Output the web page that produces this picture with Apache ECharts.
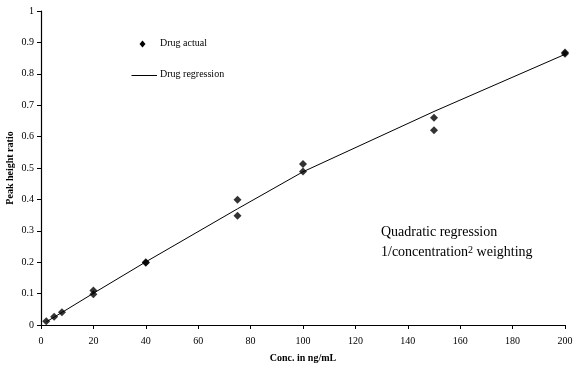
<!DOCTYPE html>
<html><head><meta charset="utf-8">
<script src="https://cdn.jsdelivr.net/npm/echarts@6/dist/echarts.min.js"></script>
<style>html,body{margin:0;padding:0;background:#fff}#c{width:580px;height:369px}</style>
</head><body><div id="c"></div>
<script>
const actualPoints = [
  [2,0.012],[5,0.026],[8,0.041],[20,0.110],[20,0.098],[40,0.200],[40,0.198],
  [75,0.399],[75,0.348],[100,0.513],[100,0.489],[150,0.660],[150,0.620],[200,0.868],[200,0.864]
];
const regressionPoints = [
  [2,0.010],[5,0.025],[8,0.040],[20,0.101],[40,0.201],[75,0.370],[100,0.488],[150,0.680],[200,0.862]
];
const xTicks = [0,20,40,60,80,100,120,140,160,180,200];
const yTicks = [0,0.1,0.2,0.3,0.4,0.5,0.6,0.7,0.8,0.9,1];
const F = '"Liberation Serif", "Times New Roman", serif';
const chart = echarts.init(document.getElementById('c'), null, {renderer:'canvas'});
chart.setOption({
  animation:false,
  backgroundColor:'#fff',
  grid:{left:41,right:15,top:11,bottom:44,containLabel:false,outerBoundsMode:'none'},
  legend:{show:false},
  xAxis:{
    type:'value', min:0, max:200, interval:20,
    name:'Conc. in ng/mL', nameLocation:'middle', nameGap:28, nameMoveOverlap:false,
    nameTextStyle:{fontFamily:F,fontSize:10,fontWeight:'bold',color:'#000'},
    axisLine:{lineStyle:{color:'#000',width:1.2}},
    axisTick:{show:true,length:4,lineStyle:{color:'#000'}},
    axisLabel:{fontFamily:F,fontSize:10,color:'#000',margin:11,formatter:v=>xTicks.includes(v)?String(v):''},
    splitLine:{show:false}
  },
  yAxis:{
    type:'value', min:0, max:1, interval:0.1,
    name:'Peak height ratio', nameLocation:'middle', nameGap:26, nameMoveOverlap:false,
    nameTextStyle:{fontFamily:F,fontSize:10,fontWeight:'bold',color:'#000'},
    axisLine:{show:true,lineStyle:{color:'#000',width:1.2}},
    axisTick:{show:true,length:4,lineStyle:{color:'#000'}},
    axisLabel:{fontFamily:F,fontSize:10,color:'#000',margin:7,formatter:v=>{const t=yTicks.find(y=>Math.abs(y-v)<1e-9);return t===undefined?'':String(Math.round(t*10)/10);}},
    splitLine:{show:false}
  },
  graphic:[
    {type:'polygon',shape:{points:[[142.5,40.5],[145.5,44],[142.5,47.5],[139.5,44]]},style:{fill:'#000'}},
    {type:'text',left:160,top:38,style:{text:'Drug actual',fontFamily:F,fontSize:10,fill:'#000'}},
    {type:'line',shape:{x1:131.5,y1:75.5,x2:157,y2:75.5},style:{stroke:'#000',lineWidth:1}},
    {type:'text',left:160,top:69,style:{text:'Drug regression',fontFamily:F,fontSize:10,fill:'#000'}},
    {type:'text',left:381,top:225,style:{text:'Quadratic regression',fontFamily:F,fontSize:14,fill:'#000'}},
    {type:'text',left:381,top:245,style:{
      text:'{a|1/concentration}{s|2}{a| weighting}',
      rich:{a:{fontFamily:F,fontSize:14,fill:'#000',color:'#000'},s:{fontFamily:F,fontSize:10,color:'#000',verticalAlign:'top',padding:[0,0,4,0]}}
    }}
  ],
  series:[
    {name:'Drug regression',type:'line',data:regressionPoints,symbol:'none',smooth:false,
     lineStyle:{color:'#000',width:1},itemStyle:{color:'#000'},z:2},
    {name:'Drug actual',type:'scatter',data:actualPoints,symbol:'diamond',symbolSize:8,
     itemStyle:{color:'#000'},z:3}
  ]
});
</script></body></html>
